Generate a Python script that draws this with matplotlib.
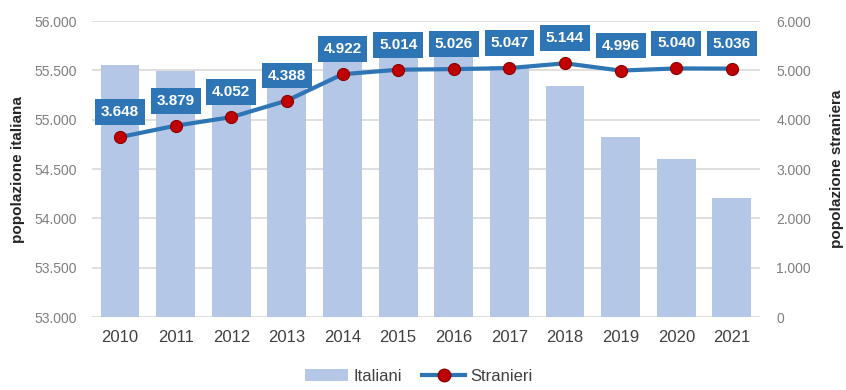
import matplotlib
matplotlib.use("Agg")
import matplotlib.pyplot as plt
from matplotlib.lines import Line2D
from matplotlib.patches import Patch

plt.rcParams['font.family'] = ['Liberation Sans', 'DejaVu Sans']

# Dati: popolazione residente (migliaia)
anni = ['2010', '2011', '2012', '2013', '2014', '2015',
        '2016', '2017', '2018', '2019', '2020', '2021']
italiani = [55550, 55490, 55340, 55370, 55850, 55780,
            55640, 55540, 55340, 54820, 54600, 54210]
stranieri = [3648, 3879, 4052, 4388, 4922, 5014,
             5026, 5047, 5144, 4996, 5040, 5036]
etichette_stranieri = ['3.648', '3.879', '4.052', '4.388', '4.922', '5.014',
                       '5.026', '5.047', '5.144', '4.996', '5.040', '5.036']

sx_ticks = [53000, 53500, 54000, 54500, 55000, 55500, 56000]
sx_labels = ['53.000', '53.500', '54.000', '54.500', '55.000', '55.500', '56.000']
dx_ticks = [0, 1000, 2000, 3000, 4000, 5000, 6000]
dx_labels = ['0', '1.000', '2.000', '3.000', '4.000', '5.000', '6.000']

col_barre = '#b4c7e7'
col_linea = '#2e75b6'
col_punti = '#c00000'
col_grid = '#d9d9d9'
col_tick = '#7f7f7f'

fig = plt.figure(figsize=(8.46, 3.90), dpi=100)
ax = fig.add_axes([0.109, 0.187, 0.789, 0.759])
ax2 = ax.twinx()

x = range(len(anni))

# griglia orizzontale
for t in sx_ticks:
    ax.axhline(t, color=col_grid, linewidth=1.2, zorder=0)

# barre italiani (asse sinistro)
ax.bar(x, italiani, width=0.7, color=col_barre, zorder=2)
ax.set_ylim(53000, 56000)
ax.set_xlim(-0.5, len(anni) - 0.5)
ax.set_yticks(sx_ticks)
ax.set_yticklabels(sx_labels, color=col_tick, fontsize=10)
ax.set_xticks(list(x))
ax.set_xticklabels(anni, color='#404040', fontsize=12)
ax.tick_params(axis='x', length=0, pad=9)
ax.tick_params(axis='y', length=0, pad=11)
ax.set_ylabel('popolazione italiana', fontsize=11, color='#262626',
              fontweight='bold')
ax.yaxis.set_label_coords(-0.1, 0.5)

# linea stranieri (asse destro)
ax2.set_ylim(0, 6000)
ax2.set_yticks(dx_ticks)
ax2.set_yticklabels(dx_labels, color=col_tick, fontsize=10)
ax2.tick_params(axis='y', length=0, pad=12)
ax2.set_ylabel('popolazione straniera', fontsize=11, color='#262626',
               fontweight='bold', rotation=90)
ax2.yaxis.set_label_coords(1.105, 0.5)
ax2.plot(x, stranieri, color=col_linea, linewidth=3, zorder=3)
ax2.scatter(x, stranieri, s=75, color=col_punti, edgecolors='#8b0000',
            linewidths=0.8, zorder=4)

for xi, v, t in zip(x, stranieri, etichette_stranieri):
    ax2.annotate(t, (xi, v), xytext=(0, 18), textcoords='offset points',
                 ha='center', va='center', color='white', fontsize=11,
                 fontweight='bold',
                 bbox=dict(boxstyle='square,pad=0.38', facecolor=col_linea,
                           edgecolor='none'),
                 zorder=5)

ax.patch.set_visible(False)
ax2.patch.set_visible(False)
for a in (ax, ax2):
    for s in a.spines.values():
        s.set_visible(False)

handles = [Patch(facecolor=col_barre, edgecolor='none', label='Italiani'),
           Line2D([0], [0], color=col_linea, linewidth=3, marker='o',
                  markersize=9, markerfacecolor=col_punti,
                  markeredgecolor='#8b0000', label='Stranieri')]
fig.legend(handles=handles, loc='center', bbox_to_anchor=(0.495, 0.035),
           ncol=2, frameon=False, fontsize=12, handlelength=2.6,
           columnspacing=1.2, handletextpad=0.3, labelcolor='#404040')

fig.savefig('out.png', dpi=100, facecolor='white')
